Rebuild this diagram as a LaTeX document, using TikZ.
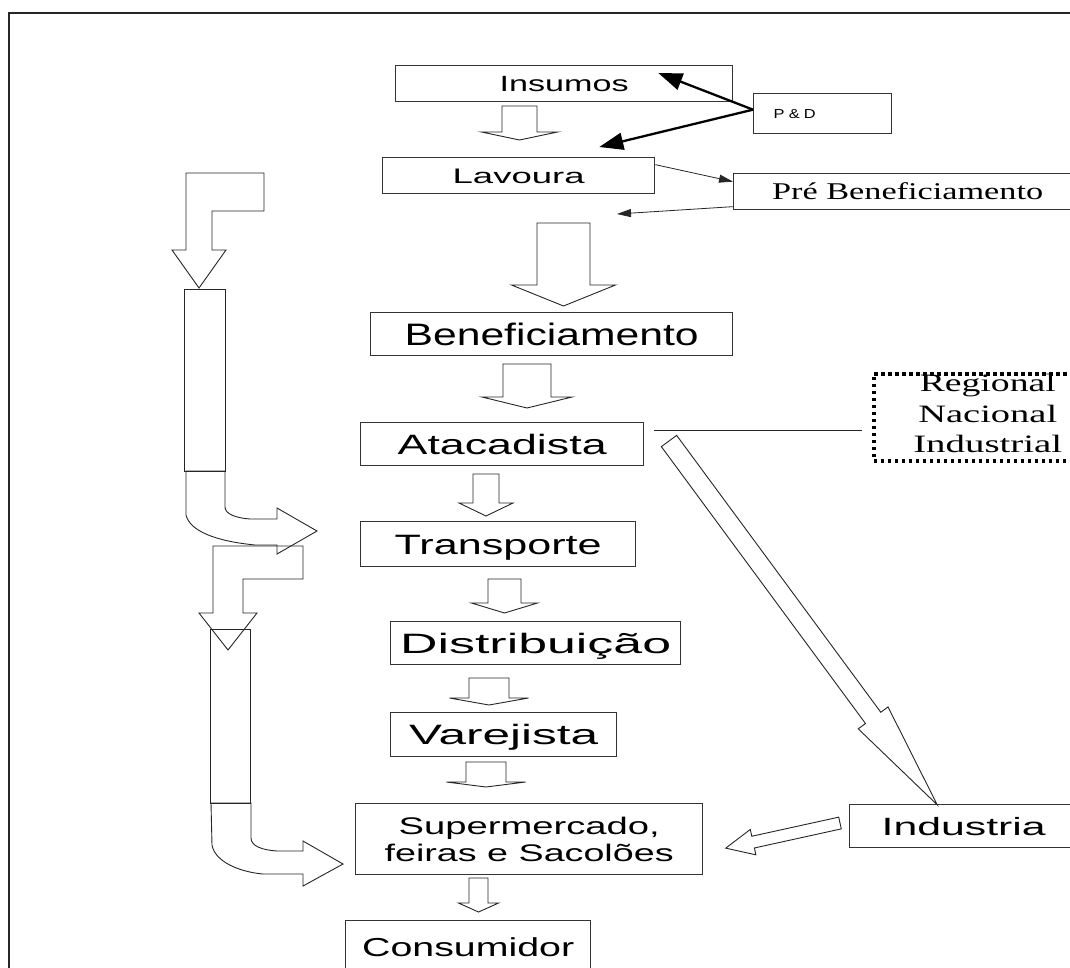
\documentclass[tikz,border=0pt]{standalone}
\usepackage{fontspec}
\setmainfont{Liberation Sans}
\newfontfamily\serifface{Liberation Serif}
\usepackage{graphicx}
\usetikzlibrary{arrows.meta,calc}

% text of a given size stretched to a given width
\newcommand\wt[3]{{\fontsize{#1pt}{#1pt}\selectfont\resizebox{#2pt}{\height}{#3}}}

\begin{document}
\begin{tikzpicture}[x=1pt,y=-1pt,
  box/.style={draw=black!80, line width=1.3pt, rectangle, anchor=north west, inner sep=0pt},
  tx/.style={text height=#1pt, text depth=0pt},
  blk/.style={draw=black!85, line width=0.9pt, line join=miter},
  pdarrow/.style={draw=black, line width=2.3pt, -{Triangle[length=24pt,width=17pt]}},
  lnk/.style={draw=black!85, line width=0.8pt, -{Triangle[length=14pt,width=8pt]}},
  pics/barrow/.style n args={4}{code={%
    \draw[blk] (0,-#2) -- (#1-#4,-#2) -- (#1-#4,-#3) -- (#1,0) -- (#1-#4,#3) -- (#1-#4,#2) -- (0,#2) -- cycle;}},
]
\useasboundingbox (0,0) rectangle (1070,967);
\clip (0,0) rectangle (1070,967);
\fill[white] (0,0) rectangle (1070,967);

% outer frame
\draw[line width=2.2pt, black!85] (9,975) -- (9,13) -- (1080,13);

% boxes of the chain
\node[box, tx=15.8, minimum width=337, minimum height=36] (ins) at (395,65) {\wt{22}{129}{Insumos}};
\node[box, tx=9.4, minimum width=138, minimum height=40, text width=98, align=left, inner xsep=20pt] (pd) at (753,93) {\wt{13}{42}{P \& D}};
\node[box, tx=15.1, minimum width=272, minimum height=36] (lav) at (382,157) {\wt{21}{132}{Lavoura}};
\node[box, tx=15.9, minimum width=348, minimum height=36] (pre) at (733,173) {\serifface\wt{24}{271}{Pré Beneficiamento}};
\node[box, tx=22.3, minimum width=362, minimum height=43] (ben) at (370,312) {\wt{31}{294}{Beneficiamento}};
\node[box, tx=20.2, minimum width=283, minimum height=43] (ata) at (360,422) {\wt{28}{209}{Atacadista}};
\node[box, tx=20.2, minimum width=275, minimum height=45] (tra) at (360,521) {\wt{28}{207}{Transporte}};
\node[box, tx=20.2, minimum width=290, minimum height=43] (dis) at (390,621) {\wt{28}{271}{Distribuição}};
\node[box, tx=20.2, minimum width=226, minimum height=44] (var) at (390,712) {\wt{28}{189}{Varejista}};
\node[box, minimum width=347, minimum height=71, align=center, font=\fontsize{24pt}{27pt}\selectfont] (sup) at (355,803)
  {\wt{24}{261}{Supermercado,}\\\wt{24}{289}{feiras e Sacolões}};
\node[box, tx=18.7, minimum width=245, minimum height=52] (con) at (345,920) {\wt{26}{212}{Consumidor}};
\node[box, tx=18, minimum width=228, minimum height=43] (ind) at (849,804) {\wt{25}{164}{Industria}};
\node[box, draw=black, line width=3.5pt, dash pattern=on 3.5pt off 3.5pt, minimum width=228, minimum height=87] (reg) at (872,372) {};
\node[align=center, inner sep=0pt, font=\serifface\fontsize{25pt}{30.5pt}\selectfont] (regtxt) at ([yshift=3.5pt]reg.center)
  {\wt{25}{136}{Regional}\\\wt{25}{139}{Nacional}\\\wt{25}{149}{Industrial}};

% P&D feeding Insumos and Lavoura
\coordinate (pdA) at ($(ins.north east)+(-75,8)$);
\coordinate (pdB) at ($(lav.north east)+(-56,-10)$);
\draw[pdarrow] ([yshift=4pt]pd.west) -- (pdA);
\draw[pdarrow] ([yshift=4pt]pd.west) -- (pdB);

% Lavoura <-> Pre Beneficiamento
\coordinate (back) at (617,214);
\draw[lnk] ([yshift=11pt]lav.east) -- ([yshift=10pt]pre.west);
\draw[lnk] ([yshift=-15pt]pre.west) -- (back);

% Atacadista -- Regional/Nacional/Industrial
\coordinate (l1) at ($(ata.north east)+(10,8)$);
\draw[draw=black!85, line width=0.9pt, shorten >=10pt] (l1) -- (l1 -| reg.west);

% hollow block arrows down the chain
\pic[rotate=-90] at (519.5,106) {barrow={34}{17.5}{38}{8}};
\pic[rotate=-90] at (563.5,223) {barrow={83}{26.5}{52}{21}};
\pic[rotate=-90] at (527,364) {barrow={44}{24}{45}{11}};
\pic[rotate=-90] at (486,474) {barrow={42}{13}{27}{13}};
\pic[rotate=-90] at (504.5,579) {barrow={34}{16.5}{33}{10}};
\pic[rotate=-90] at (489,678) {barrow={27}{20}{39.5}{7}};
\pic[rotate=-90] at (486,762) {barrow={25}{20}{39.5}{5}};
\pic[rotate=-90] at (478.5,878) {barrow={34}{9.5}{20}{9}};

% Atacadista to Industria, Industria to Supermercado
\pic[rotate=-53.6] at (669,441) {barrow={452}{9.5}{18.5}{108}};
\pic[rotate=-167.6] at (840,823) {barrow={117}{6}{13}{28}};

% left bypass arrows
\draw[blk] (186,173) -- (264,173) -- (264,211) -- (212,211) -- (212,250) -- (226,250) -- (199,288) -- (172,250) -- (186,250) -- cycle;
\draw[blk] (184,289) rectangle (225,471);
\draw[blk] (186,471) -- (186,515) .. controls (190,531) and (215,541) .. (255,545) -- (277,545) -- (277,554) -- (317,531)
  -- (277,508) -- (277,519) -- (250,519) .. controls (236,518) and (225,514) .. (225,507) -- (225,471) -- cycle;
\draw[blk] (213,546) -- (303,546) -- (303,579) -- (243,579) -- (243,613) -- (257,613) -- (228,650) -- (199,613) -- (213,613) -- cycle;
\draw[blk] (210,629) rectangle (250,803);
\draw[blk] (211,803) -- (212,845) .. controls (215,862) and (240,872) .. (263,874) -- (303,874) -- (303,886) -- (343,864)
  -- (303,841) -- (303,851) -- (277,851) .. controls (262,850) and (251,846) .. (251,838) -- (251,803) -- cycle;
\end{tikzpicture}
\end{document}
